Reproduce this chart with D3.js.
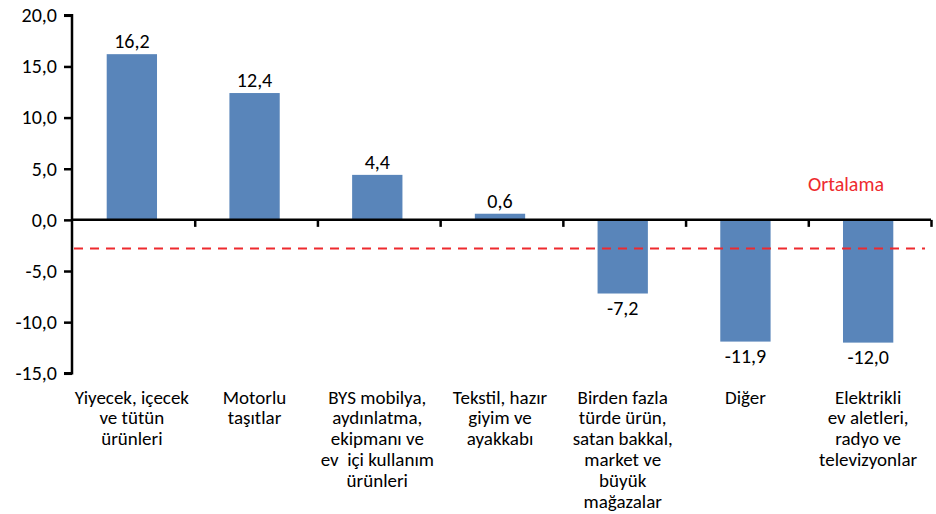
<!DOCTYPE html>
<html><head><meta charset="utf-8">
<script src="https://cdn.jsdelivr.net/npm/d3@7"></script>
<style>
html,body{margin:0;padding:0;background:#fff;}
text{font-family:Carlito,Lato,"Open Sans",sans-serif;}
</style></head>
<body><svg id="c" width="936" height="514"></svg>
<script>
const categories = [
  ["Yiyecek, içecek","ve tütün","ürünleri"],
  ["Motorlu","taşıtlar"],
  ["BYS mobilya,","aydınlatma,","ekipmanı ve","ev  içi kullanım","ürünleri"],
  ["Tekstil, hazır","giyim ve","ayakkabı"],
  ["Birden fazla","türde ürün,","satan bakkal,","market ve","büyük","mağazalar"],
  ["Diğer"],
  ["Elektrikli","ev aletleri,","radyo ve","televizyonlar"]
];
const values = [16.2, 12.4, 4.4, 0.6, -7.2, -11.9, -12.0];
const valueLabels = ["16,2","12,4","4,4","0,6","-7,2","-11,9","-12,0"];
const average = -2.8;
const averageLabel = "Ortalama";
const yTicks = [20,15,10,5,0,-5,-10,-15];
const yTickLabels = ["20,0","15,0","10,0","5,0","0,0","-5,0","-10,0","-15,0"];

(function(){
const svg = d3.select("#c");
const L = 72, R = 931, T = 15.3, B = 373.3;
const y = d3.scaleLinear().domain([-15,20]).range([B, T]);
const x = d3.scaleBand().domain(d3.range(categories.length)).range([L, R]).paddingInner(0.59).paddingOuter(0.295);
const xb = d3.scaleLinear().domain([0, categories.length]).range([L, R]);
const fs = 20;
const ff = "Carlito,Lato,'Open Sans',sans-serif";

svg.selectAll("rect.bar").data(values).enter().append("rect")
  .attr("x",(d,i)=>x(i)-1.5).attr("width",x.bandwidth())
  .attr("y",d=>y(Math.max(0,d))).attr("height",d=>Math.abs(y(d)-y(0)))
  .attr("fill","#5985BA");

const yAxis = d3.axisLeft(y).tickValues(yTicks).tickFormat((d,i)=>yTickLabels[i]).tickSize(8).tickPadding(7);
const ya = svg.append("g").attr("transform",`translate(${L},0)`).call(yAxis);
ya.select(".domain").attr("stroke","#000").attr("stroke-width",2.5).attr("d",`M-8,${T}H0V${B}H-8`);
ya.selectAll(".tick line").attr("stroke","#000").attr("stroke-width",2.5);
ya.selectAll(".tick text").attr("font-size",fs).attr("fill","#000").attr("font-family",ff);

const xAxis = d3.axisBottom(xb).tickValues(d3.range(1,categories.length+1)).tickFormat("").tickSize(7);
const xa = svg.append("g").attr("transform",`translate(0,${y(0)})`).call(xAxis);
xa.select(".domain").attr("stroke","#000").attr("stroke-width",2.5).attr("d",`M${L},0H${R}`);
xa.selectAll(".tick line").attr("stroke","#000").attr("stroke-width",2.5);

svg.append("line").attr("x1",L+2).attr("x2",925).attr("y1",y(average)).attr("y2",y(average))
  .attr("stroke","#EE2A2E").attr("stroke-width",2).attr("stroke-dasharray","9,7");
svg.append("text").attr("x",846).attr("y",191).attr("text-anchor","middle").attr("font-size",fs)
  .attr("fill","#EE2A2E").text(averageLabel);

svg.selectAll("text.val").data(values).enter().append("text")
  .attr("x",(d,i)=>x(i)-1.5+x.bandwidth()/2)
  .attr("y",d=> d>=0 ? y(d)-6 : y(d)+21)
  .attr("text-anchor","middle").attr("font-size",fs).attr("fill","#000")
  .text((d,i)=>valueLabels[i]);

categories.forEach((lines,i)=>{
  const t = svg.append("text").attr("text-anchor","middle").attr("font-size",19).attr("fill","#000");
  lines.forEach((ln,j)=>{
    t.append("tspan").attr("x",xb(i+0.5)-1.5).attr("y",403.5+j*20.8).attr("xml:space","preserve").text(ln);
  });
});
})();
</script></body></html>
